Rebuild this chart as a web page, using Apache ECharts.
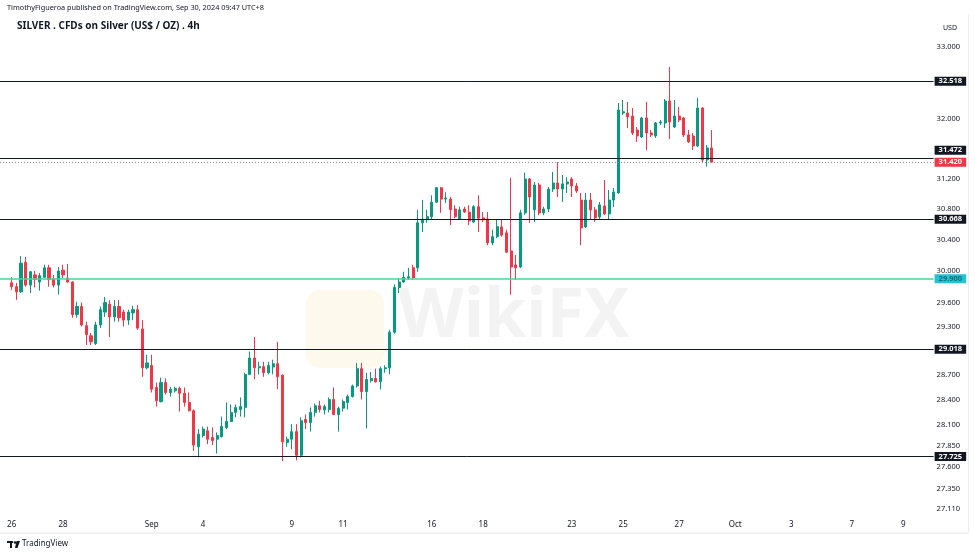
<!DOCTYPE html>
<html><head><meta charset="utf-8">
<script src="https://cdn.jsdelivr.net/npm/echarts@6/dist/echarts.min.js"></script>
<style>html,body{margin:0;padding:0;background:#fff}#c{width:975px;height:556px}</style>
</head><body><div id="c"></div>
<script>
// ---- data ----
// [open, close, low, high] per 4h bar, starting 2024-08-26 first bar
const ohlc = [
[29.85,29.80,29.76,29.92],[29.80,29.735,29.634,29.85],[29.735,30.10,29.72,30.19],[30.11,29.82,29.80,30.18],
[29.82,29.99,29.72,30.00],[29.95,29.89,29.79,30.00],[29.86,29.94,29.75,29.975],[29.92,30.04,29.91,30.08],
[30.04,29.89,29.80,30.08],[29.90,29.82,29.79,29.95],[29.82,30.00,29.70,30.05],[30.01,29.95,29.91,30.08],
[29.91,29.86,29.85,30.09],[29.86,29.45,29.41,29.87],[29.45,29.55,29.41,29.61],[29.55,29.32,29.30,29.60],
[29.31,29.20,29.07,29.36],[29.185,29.11,29.07,29.22],[29.09,29.32,29.07,29.36],[29.32,29.51,29.28,29.55],
[29.48,29.60,29.42,29.67],[29.58,29.42,29.17,29.63],[29.42,29.55,29.36,29.63],[29.55,29.41,29.36,29.63],
[29.48,29.38,29.30,29.51],[29.38,29.48,29.32,29.51],[29.47,29.51,29.38,29.56],[29.51,29.28,29.26,29.57],
[29.27,28.79,28.68,29.38],[28.79,28.85,28.77,28.95],[28.82,28.53,28.49,28.95],[28.55,28.39,28.32,28.61],
[28.38,28.61,28.37,28.67],[28.61,28.49,28.465,28.66],[28.49,28.53,28.44,28.56],[28.51,28.54,28.49,28.56],
[28.54,28.48,28.26,28.56],[28.48,28.37,28.32,28.55],[28.37,28.27,28.26,28.49],[28.27,27.86,27.79,28.285],
[27.84,27.99,27.715,28.05],[27.975,28.05,27.95,28.08],[28.03,27.93,27.87,28.08],[27.95,27.915,27.86,28.07],
[27.93,27.975,27.76,28.01],[27.96,28.08,27.95,28.20],[28.07,28.14,28.05,28.37],[28.14,28.25,28.14,28.345],
[28.25,28.31,28.19,28.345],[28.285,28.32,28.20,28.43],[28.31,28.71,28.19,28.73],[28.71,28.91,28.71,28.99],
[28.91,28.79,28.65,29.17],[28.79,28.805,28.71,28.865],[28.805,28.73,28.68,28.865],[28.73,28.82,28.71,28.865],
[28.80,28.84,28.71,28.89],[28.84,28.68,28.53,29.11],[28.70,27.90,27.67,28.71],[27.89,27.93,27.84,27.96],
[27.93,28.02,27.81,28.11],[28.02,27.74,27.68,28.11],[27.74,28.15,27.715,28.19],[28.165,28.13,28.05,28.225],
[28.13,28.25,28.02,28.31],[28.25,28.33,28.20,28.357],[28.33,28.285,28.25,28.39],[28.28,28.32,28.225,28.345],
[28.285,28.405,28.25,28.43],[28.405,28.225,28.225,28.55],[28.225,28.297,28.02,28.32],[28.30,28.38,28.26,28.405],
[28.37,28.44,28.285,28.465],[28.44,28.57,28.43,28.586],[28.57,28.78,28.55,28.85],[28.78,28.50,28.405,28.85],
[28.50,28.647,28.058,28.73],[28.634,28.66,28.61,28.74],[28.66,28.62,28.61,28.78],[28.62,28.78,28.526,28.805],
[28.78,28.79,28.73,28.82],[28.79,29.23,28.71,29.26],[29.23,29.79,29.21,29.83],[29.79,29.86,29.72,29.91],
[29.86,29.92,29.85,29.99],[29.91,29.925,29.886,30.04],[30.04,29.91,29.886,30.08],[30.04,30.62,29.99,30.79],
[30.62,30.67,30.50,30.92],[30.66,30.70,30.62,30.79],[30.70,30.89,30.66,30.98],[30.89,31.08,30.88,31.09],
[31.08,30.93,30.75,31.09],[30.93,30.945,30.88,31.02],[30.93,30.79,30.59,30.96],[30.80,30.70,30.68,30.85],
[30.67,30.79,30.66,30.83],[30.80,30.76,30.75,30.83],[30.76,30.645,30.59,30.85],[30.63,30.83,30.62,30.85],
[30.83,30.68,30.50,30.98],[30.685,30.66,30.63,30.76],[30.67,30.36,30.33,30.76],[30.36,30.44,30.33,30.53],
[30.44,30.57,30.42,30.66],[30.567,30.46,30.44,30.66],[30.49,30.24,30.23,30.53],[30.256,30.05,29.70,31.21],
[30.077,30.04,29.886,30.205],[30.05,30.75,30.038,30.79],[30.75,31.196,30.723,31.28],[31.196,30.958,30.62,31.21],
[30.79,31.116,30.632,31.156],[31.116,30.749,30.72,31.143],[30.75,30.80,30.72,30.83],[30.80,31.063,30.76,31.09],
[31.063,31.143,31.024,31.29],[31.143,31.063,30.958,31.42],[31.063,31.13,30.892,31.249],[31.13,31.156,31.011,31.22],
[31.196,31.103,30.958,31.22],[31.103,31.037,31.011,31.143],[30.918,30.554,30.33,31.011],[30.567,30.918,30.554,31.011],
[30.918,30.788,30.658,31.011],[30.788,30.684,30.632,30.827],[30.697,30.853,30.658,30.892],[30.84,30.736,30.723,31.183],
[30.736,30.918,30.658,31.05],[30.918,31.024,30.827,31.077],[31.011,32.124,31.00,32.22],[32.083,32.10,32.056,32.261],
[32.083,32.03,31.88,32.234],[32.042,31.812,31.785,32.151],[31.852,31.771,31.691,31.893],[31.758,32.015,31.745,32.03],
[32.015,31.812,31.583,32.234],[31.812,31.785,31.758,31.852],[31.771,31.947,31.745,31.961],[31.947,31.961,31.92,31.988],
[31.947,32.247,31.88,32.275],[32.247,31.961,31.731,32.717],[31.893,32.042,31.88,32.261],[32.042,31.988,31.961,32.165],
[32.015,31.785,31.758,32.03],[31.785,31.691,31.677,31.852],[31.771,31.637,31.583,31.812],[31.637,32.151,31.62,32.29],
[32.151,31.449,31.422,32.165],[31.449,31.61,31.36,31.65],[31.61,31.42,31.409,31.852]
];
const firstBar = '2024-08-26 06:00';
const supportLevels = [32.518, 31.472, 30.668, 29.018, 27.725];
const greenLevel = 29.900;
const lastPrice = 31.420;
const yTicks = [33.0, 32.0, 31.2, 30.8, 30.4, 30.0, 29.6, 29.3, 28.7, 28.4, 28.1, 27.85, 27.6, 27.35, 27.11];
const xTickLabels = [['2024-08-26','26'],['2024-08-28','28'],['2024-09-02','Sep'],['2024-09-04','4'],['2024-09-09','9'],
['2024-09-11','11'],['2024-09-16','16'],['2024-09-18','18'],['2024-09-23','23'],['2024-09-25','25'],['2024-09-27','27'],
['2024-10-01','Oct'],['2024-10-03','3'],['2024-10-07','7'],['2024-10-09','9']];
// 4h session hours by weekday (0=Sun)
const sessionHours = {0:[],1:[6,10,14,18,22],2:[2,6,10,14,18,22],3:[2,6,10,14,18,22],4:[2,6,10,14,18,22],5:[2,6,10,14,18,22],6:[2]};

// ---- categories ----
const pad = n => (n<10?'0':'')+n;
const all = [];
let d = new Date(Date.UTC(2024,7,23));
while (all.length < 260) {
  const ds = d.getUTCFullYear()+'-'+pad(d.getUTCMonth()+1)+'-'+pad(d.getUTCDate());
  sessionHours[d.getUTCDay()].forEach(h => all.push(ds+' '+pad(h)+':00'));
  d.setUTCDate(d.getUTCDate()+1);
}
const s0 = all.indexOf('2024-08-23 22:00');
const cats = all.slice(s0, s0+200);
const startIdx = cats.indexOf(firstBar);
const labelMap = {}; xTickLabels.forEach(([k,v]) => labelMap[k]=v);
const labelCats = new Set();
cats.forEach((c,i) => { const day=c.slice(0,10); if (labelMap[day] && (i===0 || cats[i-1].slice(0,10)!==day)) labelCats.add(c); });

const candleData = ohlc.map((v,k) => [cats[startIdx+k], v[0], v[1], v[2], v[3]]);

const FONT = 'Noto Sans';
const boxLabel = (bg, fg, offY) => ({show:true, position:'end', distance:1, formatter: p => Number(p.value).toFixed(3),
  backgroundColor:bg, color:fg, fontSize:7.5, fontWeight:'bold', fontFamily:FONT, padding:[1,4,0,4], offset:[0,offY||0]});

const markData = supportLevels.map(v => ({yAxis:v, lineStyle:{color:'#131722', width:1, type:'solid'},
  label: boxLabel('#131722','#ffffff', v===31.472 ? -8 : 0)}));
markData.push({yAxis:greenLevel, lineStyle:{color:'#4fd39a', width:1.6, type:'solid'}, label: boxLabel('#22c1d6','#0d6d78')});
markData.push({yAxis:lastPrice, lineStyle:{color:'#8a8d96', width:1, type:[1,2]}, label: boxLabel('#f23645','#ffffff',0)});

const chart = echarts.init(document.getElementById('c'), null, {renderer:'canvas'});
chart.setOption({
  animation:false,
  backgroundColor:'#ffffff',
  grid:{left:-2.4, right:41.4, top:14, bottom:40, containLabel:false},
  xAxis:{type:'category', data:cats, boundaryGap:true,
    axisLine:{show:false}, axisTick:{show:false}, splitLine:{show:false},
    axisLabel:{interval:(i,v)=>labelCats.has(v), formatter:v=>labelMap[v.slice(0,10)]||'',
      fontSize:8, color:'#131722', fontFamily:FONT, margin:5, hideOverlap:false}},
  yAxis:{type:'log', logBase:10, position:'right', min:27.0331, max:33.4615, scale:true,
    axisLine:{show:false}, axisTick:{show:false}, splitLine:{show:false},
    axisLabel:{customValues:yTicks, formatter:v=>Number(v).toFixed(3), fontSize:7.5, color:'#131722', fontFamily:FONT, margin:3}},
  series:[{type:'candlestick', data:candleData, encode:{x:0, y:[1,2,3,4]}, barWidth:2.6,
    itemStyle:{color:'#089981', color0:'#f23645', borderColor:'#089981', borderColor0:'#f23645', borderWidth:1},
    markLine:{silent:true, symbol:'none', precision:3, animation:false, data:markData}}],
  graphic:[
    {type:'text', left:7, top:4, style:{text:'TimothyFigueroa published on TradingView.com, Sep 30, 2024 09:47 UTC+8', fontSize:7.3, fontFamily:FONT, fill:'#131722'}},
    {type:'text', left:17, top:21, style:{text:'SILVER . CFDs on Silver (US$ / OZ) . 4h', fontSize:10, fontWeight:'bold', fontFamily:FONT, fill:'#131722'}},
    {type:'text', left:943, top:24, style:{text:'USD', fontSize:7, fontFamily:FONT, fill:'#131722'}},
    {type:'text', left:398, top:284, z:-1, style:{text:'WikiFX', fontSize:68, fontWeight:'bold', fontFamily:FONT, fill:'rgba(120,100,100,0.08)'}},
    {type:'rect', left:306, top:290, z:-2, shape:{width:78, height:78, r:14}, style:{fill:'rgba(245,220,150,0.18)'}},
    {type:'line', shape:{x1:0, y1:533, x2:968, y2:533}, style:{stroke:'#e6e6e6', lineWidth:1}},
    {type:'line', shape:{x1:968.5, y1:14, x2:968.5, y2:533}, style:{stroke:'#ececec', lineWidth:1}},
    {type:'rect', left:7, top:541, shape:{width:6, height:2}, style:{fill:'#131722'}},
    {type:'rect', left:10, top:541, shape:{width:2, height:7}, style:{fill:'#131722'}},
    {type:'circle', shape:{cx:15, cy:542.5, r:1.3}, style:{fill:'#131722'}},
    {type:'polygon', shape:{points:[[16.5,541],[20,541],[17.5,548],[15,548]]}, style:{fill:'#131722'}},
    {type:'text', left:22, top:540, style:{text:'TradingView', fontSize:8, fontFamily:FONT, fill:'#131722'}}
  ]
});
</script></body></html>
